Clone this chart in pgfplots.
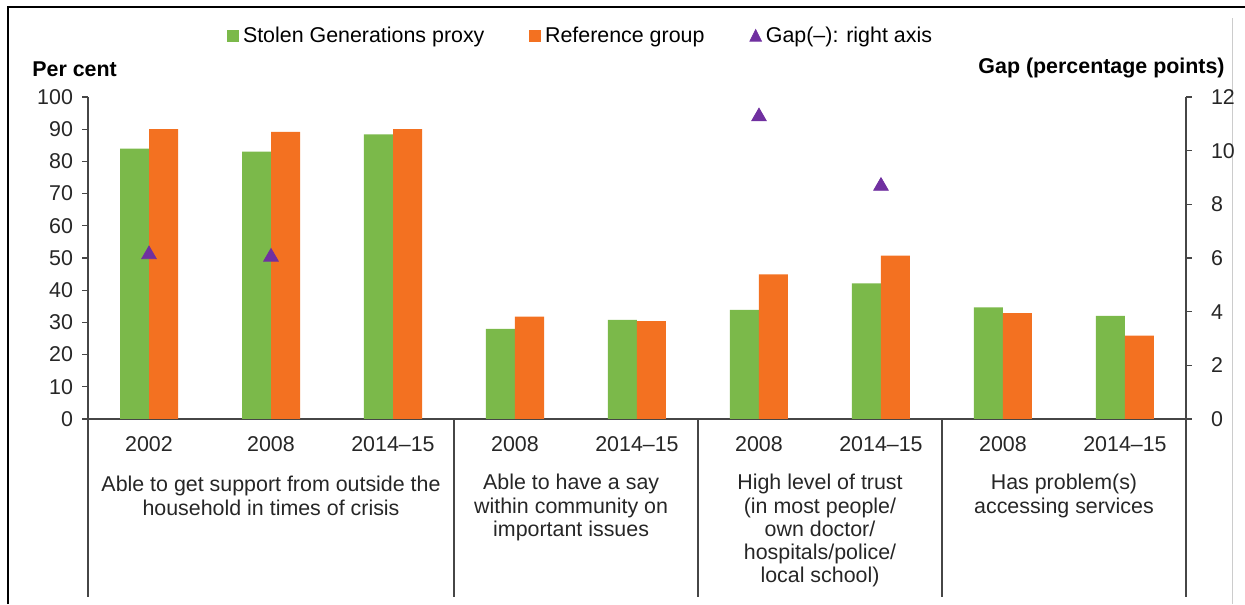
\documentclass[border=0pt]{standalone}
\usepackage{fontspec}
\setmainfont{Liberation Sans}
\usepackage{pgfplots}
\pgfplotsset{compat=1.18}
\definecolor{sgreen}{RGB}{123,185,74}
\definecolor{rorange}{RGB}{243,113,33}
\definecolor{gpurple}{RGB}{112,48,160}
\definecolor{axgray}{RGB}{70,70,70}
\newcommand{\cfont}{\fontsize{10.7}{11.6}\selectfont}
\begin{document}
\begin{tikzpicture}[font=\cfont]
\path[use as bounding box] (0,0) rectangle (622.5pt,302pt);
% frame
\draw[line width=1pt, black] (3.85pt,0) -- (3.85pt,298.5pt) -- (622.5pt,298.5pt);
\draw[gray!40, line width=0.5pt] (616.4pt,0) -- (616.4pt,293pt);
\node[anchor=base west, inner sep=0pt, font=\cfont\bfseries] at (16pt,263.5pt) {Per cent};
\node[anchor=base east, inner sep=0pt, font=\cfont\bfseries] at (612.5pt,265.3pt) {Gap (percentage points)};
\begin{axis}[
  at={(44pt,92.5pt)}, anchor=south west,
  width=549pt, height=161pt, scale only axis,
  xmin=-0.5, xmax=8.5, ymin=0, ymax=100,
  bar width=14.5pt,
  axis x line*=bottom, axis y line*=left,
  xtick={0,...,8},
  xticklabels={2002,2008,2014--15,2008,2014--15,2008,2014--15,2008,2014--15},
  major x tick style={draw=none},
  ytick={0,10,...,100},
  tick align=outside, major tick length=3pt,
  tick style={axgray, line width=0.6pt},
  axis line style={axgray, line width=0.6pt},
  tick label style={font=\cfont, text=black!85},
  xticklabel style={anchor=base, yshift=-13.25pt},
  yticklabel style={xshift=-1pt},
  /pgf/number format/assume math mode=true,
  clip=false,
  legend columns=3,
  legend style={draw=none, fill=none, inner sep=0pt, font=\cfont,
    at={(axis description cs:0.1266,1.1894)}, anchor=west,
    /tikz/every even column/.append style={column sep=20.5pt}},
]
\addlegendimage{legend image code/.code={\fill[sgreen] (0pt,-2.7pt) rectangle (5.4pt,2.7pt);}}
\addlegendentry{Stolen Generations proxy}
\addlegendimage{legend image code/.code={\fill[rorange] (0pt,-2.7pt) rectangle (5.4pt,2.7pt);}}
\addlegendentry{Reference group}
\addlegendimage{legend image code/.code={\fill[gpurple] (-0.6pt,-2.6pt) -- (5.2pt,-2.6pt) -- (2.3pt,3.2pt) -- cycle;}}
\addlegendentry{Gap(--): right axis}
\addplot[ybar, bar shift=-7.25pt, fill=sgreen, draw=none, forget plot] coordinates {(0,84) (1,83) (2,88.4) (3,28) (4,30.8) (5,33.9) (6,42.1) (7,34.7) (8,32)};
\addplot[ybar, bar shift=7.25pt, fill=rorange, draw=none, forget plot] coordinates {(0,90) (1,89.2) (2,90) (3,31.8) (4,30.4) (5,44.9) (6,50.7) (7,32.9) (8,25.9)};
% group separators
\draw[axgray, line width=0.6pt] (axis cs:-0.5,0) -- ++(0pt,-89pt);
\draw[axgray, line width=0.6pt] (axis cs:2.5,0) -- ++(0pt,-89pt);
\draw[axgray, line width=0.6pt] (axis cs:4.5,0) -- ++(0pt,-89pt);
\draw[axgray, line width=0.6pt] (axis cs:6.5,0) -- ++(0pt,-89pt);
\draw[axgray, line width=0.6pt] (axis cs:8.5,0) -- ++(0pt,-89pt);
% group labels
\node[anchor=north, align=center, inner sep=0pt, text=black!85] at ([yshift=-28.5pt]axis cs:1,0) {Able to get support from outside the\\household in times of crisis};
\node[anchor=north, align=center, inner sep=0pt, text=black!85] at ([yshift=-27.5pt]axis cs:3.46,0) {Able to have a say\\within community on\\important issues};
\node[anchor=north, align=center, inner sep=0pt, text=black!85] at ([yshift=-27.5pt]axis cs:5.5,0) {High level of trust\\(in most people/\\own doctor/\\hospitals/police/\\local school)};
\node[anchor=north, align=center, inner sep=0pt, text=black!85] at ([yshift=-27.5pt]axis cs:7.5,0) {Has problem(s)\\accessing services};
\end{axis}
\begin{axis}[
  at={(44pt,92.5pt)}, anchor=south west,
  width=549pt, height=161pt, scale only axis,
  xmin=-0.5, xmax=8.5, ymin=0, ymax=12,
  axis x line=none, axis y line*=right,
  ytick={0,2,...,12},
  tick align=outside, major tick length=3pt,
  tick style={axgray, line width=0.6pt},
  axis line style={axgray, line width=0.6pt},
  tick label style={font=\cfont, text=black!85},
  yticklabel style={xshift=6pt},
  /pgf/number format/assume math mode=true,
  clip=false,
]
\addplot[only marks, mark=triangle*, mark size=4.2pt, color=gpurple] coordinates {(0,6.13) (1,6.04) (5,11.27) (6,8.68)};
\end{axis}
\end{tikzpicture}
\end{document}
